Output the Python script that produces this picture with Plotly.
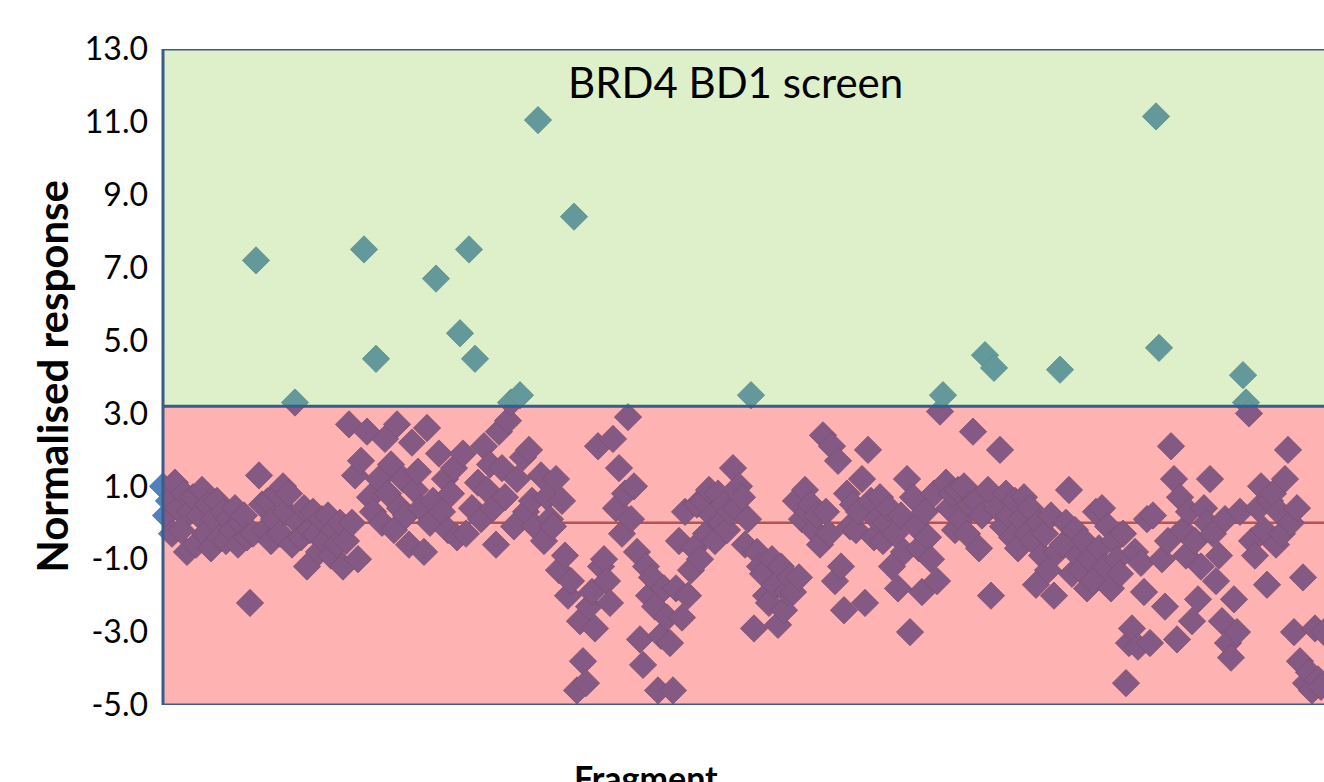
import plotly.graph_objects as go

# Normalised response per fragment (in fragment order)
response_01 = [1.0, 0.2, 0.6, -0.3, 1.1, 0.4, -0.2, 0.8, -0.8, 0.3]
response_02 = [0.7, -0.6, 0.2, 0.9, -0.3, 0.5, -0.7, 0.1, 0.6, -0.4]
response_03 = [0.3, -0.5, 0.1, -0.2, 0.4, -0.6, 0.0, 0.2, -0.4, -2.2]
response_04 = [-0.3, 7.2, 1.3, 0.5, -0.2, 0.6, -0.5, 0.1, 0.8, -0.3]
response_05 = [1.0, 0.3, 0.8, -0.6, 3.3, 0.0, -0.4, 0.4, -1.2, -0.2]
response_06 = [0.3, -0.3, -0.8, 0.1, -0.5, 0.2, -0.9, -0.2, -0.6, 0.0]
response_07 = [-1.2, -0.5, 2.7, 0.0, 1.3, -1.0, 1.7, 7.5, 2.5, 0.7]
response_08 = [0.3, 4.5, 1.2, 0.0, 2.3, 0.8, 1.6, -0.2, 2.7, 0.4]
response_09 = [1.2, 0.2, -0.6, 2.2, 0.9, 1.4, 0.4, -0.8, 2.6, 0.0]
response_10 = [0.6, 6.7, 1.9, 0.3, 1.2, -0.2, 0.8, 1.5, -0.4, 5.2]
response_11 = [1.9, -0.3, 7.5, 0.4, 4.5, 1.1, 0.1, 2.1, 0.9, 1.6]
response_12 = [0.4, -0.6, 2.5, 1.5, 0.7, 2.8, 3.3, -0.1, 1.2, 3.5]
response_13 = [1.8, 0.3, 2.0, 0.6, -0.1, 11.05, 1.3, -0.5, 0.7, 0.1]
response_14 = [-0.1, 1.2, -1.3, 0.6, -0.9, -2.0, -1.6, 8.4, -4.6, -2.7]
response_15 = [-3.8, -4.4, -2.3, -1.9, -2.9, 2.1, -1.2, -1.0, -1.6, -2.2]
response_16 = [2.3, 0.4, 1.5, -0.3, 0.8, 2.9, 0.1, 1.0, -0.8, -3.2]
response_17 = [-3.9, -1.2, -2.0, -1.5, -2.3, -4.6, -3.1, -1.8, -2.6, -3.3]
response_18 = [-4.6, -1.8, -0.5, -2.6, 0.3, -2.0, -1.3, -0.7, 0.5, -1.0]
response_19 = [0.6, -0.3, 0.9, 0.2, -0.5, 0.8, 0.0, 0.5, -0.2, 0.3]
response_20 = [1.5, 0.4, 1.0, 0.7, -0.6, 0.1, 3.5, -2.9, -0.8, -1.2]
response_21 = [-1.4, -2.0, -2.2, -1.0, -1.7, -2.8, -1.2, -2.4, -1.9, -1.5]
response_22 = [-1.9, 0.6, -1.5, 0.1, 0.9, 0.3, 0.5, -0.2, 0.2, -0.6]
response_23 = [2.4, 0.3, -0.3, 2.1, -1.6, 1.7, -1.2, -2.4, 0.8, -0.1]
response_24 = [0.5, -0.2, 0.3, 1.2, -2.2, 2.0, 0.6, -0.4, 0.1, 0.7]
response_25 = [-0.5, 0.0, 0.4, -1.2, -0.3, -1.8, 0.2, -0.8, 1.2, -3.0]
response_26 = [0.7, -0.1, -0.7, -1.9, 0.3, -0.4, -1.0, 0.8, -1.6, 3.05]
response_27 = [3.5, 1.1, 0.4, 0.8, -0.2, 0.9, 0.1, 1.0, -0.3, 0.5]
response_28 = [2.5, 0.6, -0.7, 0.2, 4.6, 0.9, -2.0, 4.25, 0.4, 2.0]
response_29 = [-0.1, 0.8, 0.2, -0.4, 0.6, -0.7, 0.1, 0.7, -0.3, 0.4]
response_30 = [-0.5, -1.7, 0.0, -0.9, -0.3, -1.3, 0.2, -2.0, -0.8, 4.2]
response_31 = [-0.6, 0.0, 0.9, -1.4, -0.2, -0.9, -1.3, -0.5, -1.8, -1.0]
response_32 = [-1.6, 0.3, -0.7, 0.4, -1.2, -0.1, -1.8, -0.5, -1.0, -1.4]
response_33 = [-0.3, -4.4, -3.3, -2.9, -0.8, -3.4, -1.1, -1.9, 0.1, -3.3]
response_34 = [0.2, 11.15, 4.8, -1.0, -2.3, -0.5, 2.1, 1.2, -3.2, 0.7]
response_35 = [-0.2, -0.9, 0.3, -2.7, -0.5, -2.1, -1.2, 0.4, 0.0, 1.2]
response_36 = [-0.3, -1.6, -0.9, -2.7, 0.1, -3.3, -3.7, -2.1, -3.0, 0.3]
response_37 = [4.05, 3.3, 3.0, -0.5, -0.9, 0.4, 1.0, -0.2, -1.7, 0.6]
response_38 = [0.8, -0.6, 0.3, -0.3, 1.2, 2.0, 0.0, -3.0, 0.4, -3.8]
response_39 = [-1.5, -4.4, -4.1, -4.6, -2.9, -4.3, -4.5, -3.0]

segments = [response_01, response_02, response_03, response_04, response_05,
            response_06, response_07, response_08, response_09, response_10,
            response_11, response_12, response_13, response_14, response_15,
            response_16, response_17, response_18, response_19, response_20,
            response_21, response_22, response_23, response_24, response_25,
            response_26, response_27, response_28, response_29, response_30,
            response_31, response_32, response_33, response_34, response_35,
            response_36, response_37, response_38, response_39]
response = [v for seg in segments for v in seg]
fragment = list(range(len(response)))

y_ticks = [-5, -3, -1, 1, 3, 5, 7, 9, 11, 13]
y_min, y_max = -5.0, 13.0
hit_threshold = 3.2
baseline = 0.0

title_text = "BRD4 BD1 screen"
y_title = "Normalised response"
x_title = "Fragment"

FONT = "Lato, Calibri, Arial, sans-serif"
BORDER = "#385D8A"

fig = go.Figure()

# zero reference line (sits beneath the markers)
fig.add_trace(go.Scatter(
    x=[fragment[0], fragment[-1]], y=[baseline, baseline], mode="lines",
    line=dict(color="rgb(150,120,120)", width=2.5), hoverinfo="skip",
    showlegend=False))

fig.add_trace(go.Scatter(
    x=fragment, y=response, mode="markers",
    marker=dict(symbol="diamond", size=21, color="#4F81BD",
                line=dict(color="#44729F", width=0.8)),
    cliponaxis=False, showlegend=False))

# translucent zones drawn over the markers
fig.add_shape(type="rect", xref="paper", yref="y", x0=0, x1=1.02,
              y0=y_min, y1=hit_threshold, fillcolor="#FF0000", opacity=0.3,
              line=dict(width=0), layer="above")
fig.add_shape(type="rect", xref="paper", yref="y", x0=0, x1=1.02,
              y0=hit_threshold, y1=y_max, fillcolor="#92D050", opacity=0.31,
              line=dict(width=0), layer="above")
# zone borders
for yv in (y_max, hit_threshold, y_min):
    fig.add_shape(type="line", xref="paper", yref="y", x0=0, x1=1.02,
                  y0=yv, y1=yv, line=dict(color=BORDER, width=3), layer="above")
fig.add_shape(type="line", xref="paper", yref="y", x0=0, x1=0,
              y0=y_min, y1=y_max, line=dict(color=BORDER, width=3), layer="above")

fig.add_annotation(text=title_text, xref="paper", yref="paper",
                   x=0.4927, y=0.9497, xanchor="center", yanchor="middle",
                   showarrow=False, font=dict(family=FONT, size=42, color="black"))
fig.add_annotation(text="<b>" + y_title + "</b>", xref="paper", yref="paper",
                   x=-0.096, y=0.5015, xanchor="center", yanchor="middle",
                   textangle=-90, showarrow=False,
                   font=dict(family=FONT, size=42, color="black"))
fig.add_annotation(text="<b>" + x_title + "</b>", xref="paper", yref="paper",
                   x=0.416, y=-0.11, xanchor="center", yanchor="middle",
                   showarrow=False, font=dict(family=FONT, size=34, color="black"))

fig.update_layout(
    width=1324, height=782,
    margin=dict(l=163, r=0, t=49, b=77),
    paper_bgcolor="white", plot_bgcolor="white",
    showlegend=False,
    xaxis=dict(range=[0, 387], visible=False, showgrid=False, zeroline=False),
    yaxis=dict(range=[y_min, y_max], tickvals=y_ticks,
               ticktext=[f"{v:.1f}" for v in y_ticks],
               showgrid=False, zeroline=False, showline=False, ticks="",
               ticklabelstandoff=14,
               tickfont=dict(family=FONT, size=32, color="black")),
)

fig.write_html("out.html")
